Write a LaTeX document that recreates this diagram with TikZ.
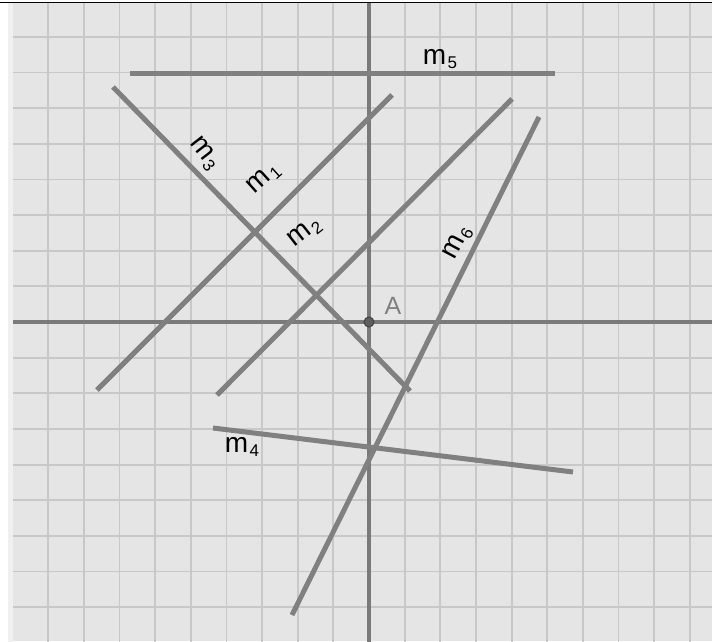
\documentclass[tikz,border=0pt]{standalone}
\usepackage{fontspec}
\setmainfont{Liberation Sans}
\definecolor{segc}{HTML}{808080}
\definecolor{axisc}{HTML}{7A7A7A}
\definecolor{gridc}{HTML}{C8C8C8}
\definecolor{bgc}{HTML}{E5E5E5}
\definecolor{stripc}{HTML}{F0F0F0}
\definecolor{ptc}{HTML}{5E5E5E}
\newcommand\msub[1]{m\kern1.5pt\raisebox{-4pt}{\fontsize{17}{17}\selectfont #1}}
\begin{document}
\begin{tikzpicture}[x=1pt,y=-1pt,
  seg/.style={draw=segc,line width=5pt},
  axisline/.style={draw=axisc,line width=3.5pt},
  gridline/.style={draw=gridc,line width=1.8pt},
  lab/.style={font=\fontsize{28}{28}\selectfont,inner sep=0pt,text=black},
  alab/.style={font=\fontsize{25}{25}\selectfont,inner sep=0pt,text=segc}]
\useasboundingbox (0,0) rectangle (712,642);
\fill[white] (0,0) rectangle (712,642);
\fill[stripc] (8,3) rectangle (13,642);
\fill[bgc] (13,3) rectangle (712,641);
\begin{scope}
\clip (13,3) rectangle (712,641);
\foreach \k in {-10,...,9} \draw[gridline] ({369+35.65*\k},0) -- ({369+35.65*\k},642);
\foreach \k in {-9,...,9} \draw[gridline] (0,{322+35.65*\k}) -- (712,{322+35.65*\k});
\coordinate (ax1) at (369,3);
\coordinate (ax2) at (369,642);
\coordinate (ay1) at (13,322);
\coordinate (ay2) at (712,322);
\draw[axisline] (ax1) -- (ax2);
\draw[axisline] (ay1) -- (ay2);
\end{scope}
\draw[black,line width=1pt] (0,2.5) -- (712,2.5);
% segment end points
\coordinate (m5a) at (130,74);  \coordinate (m5b) at (555,74);
\coordinate (m3a) at (113,87);  \coordinate (m3b) at (410,391);
\coordinate (m1a) at (97,390);  \coordinate (m1b) at (392,95);
\coordinate (m2a) at (217,395); \coordinate (m2b) at (512,99);
\coordinate (m6a) at (539,117); \coordinate (m6b) at (292,615);
\coordinate (m4a) at (213,428); \coordinate (m4b) at (573,472);
\draw[seg] (m5a) -- (m5b);
\draw[seg] (m3a) -- (m3b);
\draw[seg] (m1a) -- (m1b);
\draw[seg] (m2a) -- (m2b);
\draw[seg] (m6a) -- (m6b);
\draw[seg] (m4a) -- (m4b);
% point A
\node[circle,fill=ptc,draw=ptc!70!black,line width=1pt,minimum size=10pt,inner sep=0pt] (A) at (369,322) {};
\node[alab] (Alab) at (393,306) {A};
% labels
\node[lab] (l5) at (440,59) {\msub{5}};
\node[lab,rotate=-52] (l3) at (204,154) {\msub{3}};
\node[lab,rotate=42] (l1) at (264,179) {\msub{1}};
\node[lab,rotate=38] (l2) at (305,233) {\msub{2}};
\node[lab,rotate=62] (l6) at (458,243) {\msub{6}};
\node[lab] (l4) at (242,447) {\msub{4}};
\end{tikzpicture}
\end{document}
